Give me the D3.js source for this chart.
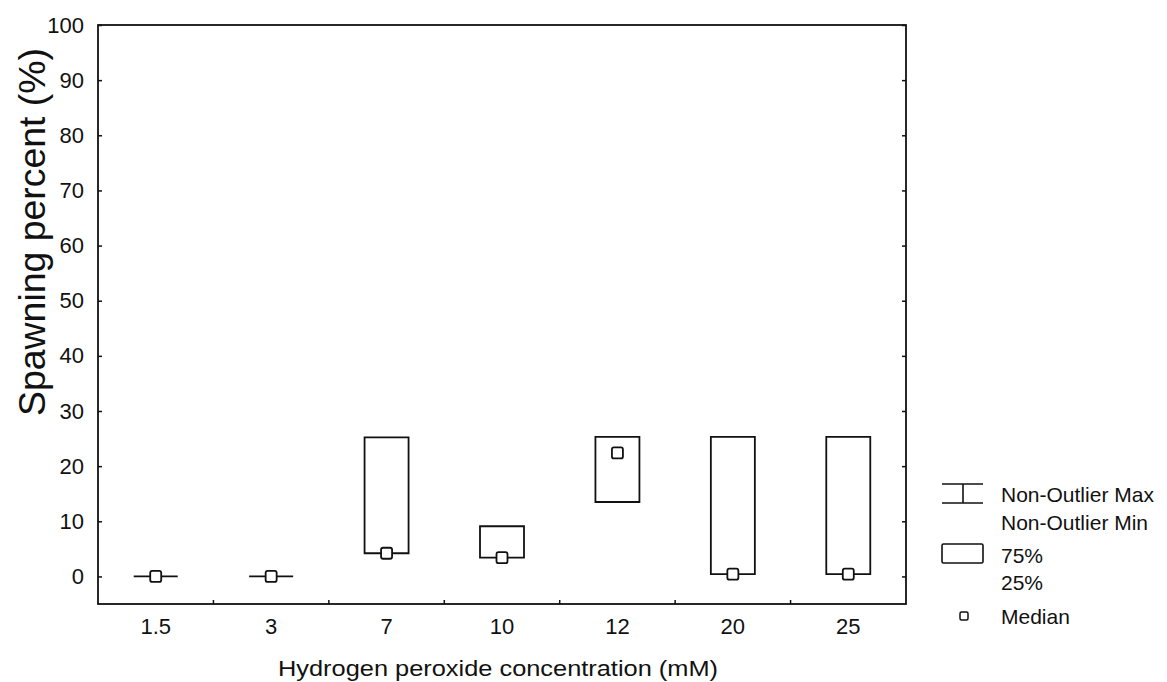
<!DOCTYPE html>
<html><head><meta charset="utf-8">
<script src="https://cdn.jsdelivr.net/npm/d3@7"></script>
<style>
body{margin:0;background:#fff;}
text{font-family:"Liberation Sans",Arial,sans-serif;fill:#111;}
</style></head>
<body><svg id="c" width="1167" height="682"></svg>
<script>
const categories = ["1.5","3","7","10","12","20","25"];
const q1Values     = [0, 0, 4.2, 3.4, 13.5, 0.4, 0.4];
const q3Values     = [0, 0, 25.2, 9.1, 25.3, 25.3, 25.3];
const medianValues = [0, 0, 4.2, 3.4, 22.4, 0.4, 0.4];
const minValues    = [0, 0, 4.2, 3.4, 13.5, 0.4, 0.4];
const maxValues    = [0, 0, 25.2, 9.1, 25.3, 25.3, 25.3];
const yTicks = [0,10,20,30,40,50,60,70,80,90,100];
const legendLabels = ["Non-Outlier Max","Non-Outlier Min","75%","25%","Median"];

const svg = d3.select("#c");
const L = 98, R = 906, T = 25, B = 604;
const x = d3.scaleBand().domain(categories).range([L, R]).padding(0);
const y = d3.scaleLinear().domain([-5, 100]).range([B, T]);
const ink = "#111";
const FONT = '"Liberation Sans",Arial,sans-serif';

// frame
svg.append("rect").attr("x", L).attr("y", T).attr("width", R - L).attr("height", B - T)
  .attr("fill", "none").attr("stroke", ink).attr("stroke-width", 1.8);

// left axis (inward ticks)
const yAxis = d3.axisLeft(y).tickValues(yTicks).tickSizeInner(-4).tickSizeOuter(0).tickPadding(14);
const gy = svg.append("g").attr("transform", `translate(${L},0)`).call(yAxis);
gy.select(".domain").remove();
gy.selectAll("line").attr("stroke", ink).attr("stroke-width", 1.5);
gy.selectAll("text").attr("font-size", 22).attr("fill", ink).attr("font-family", FONT);

// right axis ticks
const gr = svg.append("g").attr("transform", `translate(${R},0)`)
  .call(d3.axisRight(y).tickValues(yTicks).tickSizeInner(-4).tickSizeOuter(0).tickFormat(""));
gr.select(".domain").remove();
gr.selectAll("line").attr("stroke", ink).attr("stroke-width", 1.5);

// bottom axis: ticks at category boundaries, labels at centers
const boundaries = categories.slice(1).map(c => x(c));
svg.append("g").selectAll("line").data(boundaries).join("line")
  .attr("x1", d => d).attr("x2", d => d).attr("y1", B).attr("y2", B - 4)
  .attr("stroke", ink).attr("stroke-width", 1.5);
const gx = svg.append("g").attr("transform", `translate(0,${B})`)
  .call(d3.axisBottom(x).tickSize(0).tickPadding(14));
gx.select(".domain").remove();
gx.selectAll("text").attr("font-size", 22).attr("fill", ink).attr("font-family", FONT);

// axis titles
svg.append("text").attr("x", 498).attr("y", 676).attr("text-anchor", "middle")
  .attr("font-size", 22).attr("textLength", 440).attr("lengthAdjust", "spacingAndGlyphs")
  .text("Hydrogen peroxide concentration (mM)");
svg.append("text").attr("transform", "translate(45,232) rotate(-90)").attr("text-anchor", "middle")
  .attr("font-size", 36).attr("textLength", 368).attr("lengthAdjust", "spacingAndGlyphs")
  .text("Spawning percent (%)");

// boxes
const bw = 44;
const data = categories.map((c, i) => ({c, q1: q1Values[i], q3: q3Values[i], med: medianValues[i], min: minValues[i], max: maxValues[i]}));
const g = svg.append("g");
data.forEach(d => {
  const cx = x(d.c) + x.bandwidth() / 2;
  // whiskers
  g.append("line").attr("x1", cx).attr("x2", cx).attr("y1", y(d.q3)).attr("y2", y(d.max)).attr("stroke", ink).attr("stroke-width", 1.5);
  g.append("line").attr("x1", cx).attr("x2", cx).attr("y1", y(d.q1)).attr("y2", y(d.min)).attr("stroke", ink).attr("stroke-width", 1.5);
  const x0 = cx - bw / 2, x1 = cx + bw / 2, yt = y(d.q3), yb = y(d.q1);
  g.append("path").attr("d", `M${x0},${yt}H${x1}V${yb}H${x0}Z`)
    .attr("fill", "none").attr("stroke", ink).attr("stroke-width", 1.8);
  g.append("rect").attr("x", cx - 5.5).attr("y", y(d.med) - 5.5).attr("width", 11).attr("height", 11)
    .attr("rx", 2).attr("fill", "#fff").attr("stroke", ink).attr("stroke-width", 1.8);
});

// legend
const lg = svg.append("g");
lg.append("line").attr("x1", 942).attr("x2", 983).attr("y1", 484).attr("y2", 484).attr("stroke", ink).attr("stroke-width", 1.6);
lg.append("line").attr("x1", 942).attr("x2", 983).attr("y1", 503).attr("y2", 503).attr("stroke", ink).attr("stroke-width", 1.6);
lg.append("line").attr("x1", 963).attr("x2", 963).attr("y1", 484).attr("y2", 503).attr("stroke", ink).attr("stroke-width", 1.6);
lg.append("rect").attr("x", 942).attr("y", 544).attr("width", 41).attr("height", 19).attr("rx", 1.5)
  .attr("fill", "none").attr("stroke", ink).attr("stroke-width", 1.6);
lg.append("rect").attr("x", 960).attr("y", 612).attr("width", 8).attr("height", 8).attr("rx", 1.5)
  .attr("fill", "#fff").attr("stroke", ink).attr("stroke-width", 1.5);
const legendY = [502, 530, 563, 590, 624];
lg.selectAll("text").data(legendLabels).join("text")
  .attr("x", 1001).attr("y", (d, i) => legendY[i]).attr("font-size", 21).text(d => d);
</script></body></html>
